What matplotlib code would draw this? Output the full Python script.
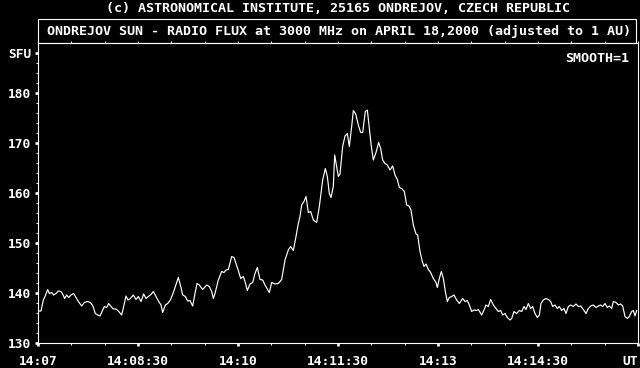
import matplotlib
matplotlib.use("Agg")
import matplotlib.pyplot as plt
from matplotlib.patches import Rectangle

# ---- data (seconds after 14:07:00 UT, flux in SFU) ----
time_s = [
    0, 2.7, 4.8, 6.3, 8.7, 10.2, 12.3, 14.1, 16.2, 18.3,
    20.7, 22.2, 24.0, 25.8, 27.6, 29.7, 32.1, 34.2, 36.3, 39.3,
    41.7, 44.7, 47.1, 49.2, 51.6, 53.7, 55.8, 57.6, 59.7, 61.8,
    63.6, 65.7, 67.8, 70.2, 72.3, 75.3, 77.1, 79.2, 81.0, 83.1,
    85.8, 88.2, 90.3, 92.7, 95.1, 97.2, 99.3, 101.7, 103.8, 106.2,
    108.6, 110.7, 112.2, 114.6, 116.7, 119.1, 121.2, 123.6, 126.3, 128.1,
    130.2, 132.6, 134.7, 136.8, 139.2, 141.3, 143.1, 145.2,
    148.2, 151.8, 154.2, 156.3, 157.8, 159.3, 162.3, 165.3, 167.4, 169.2,
    171.3, 174.3, 176.4, 178.2, 180.3, 182.4, 184.8, 186.3, 188.4, 190.8,
    193.2, 195.3, 197.4, 199.8, 202.2, 204.3, 208.2, 210.3, 213.3, 216.3,
    219.3, 222.3, 225.3, 227.4, 229.8, 232.2, 234.3, 235.8, 237.3, 239.4,
    241.2, 243.3, 245.4, 247.8, 250.8, 253.2, 256.2, 258.6, 260.4, 262.2,
    263.7, 265.8, 267.0, 268.8, 270.3, 271.8,
    274.2, 276.3, 278.4, 280.2, 282.3, 283.8, 285.9, 288.3, 290.4, 292.2,
    294.6, 296.4, 298.2, 300.0, 301.8, 304.2, 306.6, 308.4, 310.2, 312.3,
    314.4, 316.8, 319.2, 321.3, 323.4, 325.2, 327.3, 329.7, 331.8, 333.9,
    335.7, 337.8, 340.2, 341.7, 343.8, 345.9, 347.4, 349.2, 351.3, 353.4,
    355.8, 358.2, 359.4, 361.2, 363.0, 364.8, 366.6, 368.4, 370.2, 372.3,
    374.4, 376.8, 379.2,
    382.2, 384.3, 386.4, 388.2, 390.3, 392.4, 394.8, 396.3, 399.3, 401.4,
    403.2, 405.3, 407.4, 409.8, 412.2, 414.3, 416.4, 418.2, 420.3, 422.4,
    424.8, 426.3, 428.4, 430.8, 433.2, 435.3, 437.4, 439.2, 441.3, 443.4,
    445.2, 447.3, 449.4, 451.2, 452.7, 454.8, 457.2, 459.3, 461.4, 463.2,
    465.3, 467.4, 469.2, 471.3, 473.4, 475.2, 477.3, 479.4, 481.8, 484.2,
    486.3, 488.4, 490.8, 493.2, 495.3, 497.4, 499.8, 502.2, 504.3, 506.4,
    508.2, 510.3, 512.4, 514.2, 516.3, 517.8, 520.2, 522.3, 524.4, 526.2,
    528.3, 530.4, 532.2, 534.3, 535.8, 537.3, 538.8,
]
flux_sfu = [
    136.4, 136.4, 138.6, 139.3, 140.7, 139.9, 140.1, 139.6, 139.9, 140.4,
    140.3, 139.8, 138.9, 139.6, 139.1, 139.6, 139.9, 139.1, 138.3, 137.4,
    138.1, 138.3, 138.1, 137.5, 135.9, 135.6, 135.4, 136.3, 137.3, 137.1,
    137.9, 137.3, 136.8, 136.8, 136.4, 135.6, 137.3, 139.4, 138.6, 138.9,
    139.6, 138.7, 139.3, 138.3, 139.8, 138.9, 139.3, 139.7, 140.3, 139.3,
    138.3, 137.6, 136.1, 137.6, 137.9, 138.6, 139.7, 141.3, 143.1, 141.6,
    139.6, 139.3, 138.4, 138.5, 137.4, 139.9, 141.9, 141.6,
    140.7, 141.6, 141.3, 140.3, 138.9, 139.9, 142.6, 144.3, 144.1, 144.6,
    144.7, 147.3, 147.1, 145.9, 144.5, 142.9, 143.3, 142.3, 140.5, 141.8,
    142.1, 143.9, 145.1, 142.7, 142.6, 141.6, 140.1, 142.1, 141.8, 141.9,
    142.7, 146.6, 148.6, 149.3, 148.5, 151.3, 153.9, 155.3, 157.6, 158.3,
    159.3, 156.1, 156.3, 154.6, 154.1, 157.3, 162.6, 164.9, 163.3, 159.9,
    159.1, 161.3, 167.6, 165.3, 163.3, 163.8,
    169.3, 171.4, 171.9, 169.3, 173.3, 176.5, 175.8, 173.6, 172.1, 172.1,
    176.3, 176.6, 172.9, 169.3, 166.6, 168.1, 170.1, 168.9, 166.6, 165.9,
    165.6, 164.6, 165.4, 163.6, 162.7, 161.1, 160.9, 160.3, 157.6, 157.4,
    156.6, 153.6, 151.8, 151.6, 148.3, 146.3, 145.3, 145.8, 144.7, 144.1,
    142.9, 142.1, 141.1, 142.9, 144.3, 142.9, 140.3, 138.3, 139.1, 139.3,
    139.6, 138.6, 137.9,
    138.9, 138.3, 138.5, 137.6, 136.3, 136.6, 136.5, 136.7, 135.6, 136.6,
    137.6, 137.3, 138.7, 137.6, 136.9, 136.3, 136.5, 135.6, 135.9, 135.1,
    134.6, 134.9, 136.3, 135.9, 136.5, 136.3, 137.3, 136.7, 137.9, 136.9,
    137.3, 135.9, 135.1, 135.6, 137.9, 138.6, 138.9, 138.7, 138.3, 137.3,
    137.6, 136.9, 137.3, 136.5, 136.9, 135.9, 137.3, 137.6, 137.3, 137.8,
    137.3, 137.4, 136.7, 135.9, 136.9, 137.4, 137.6, 137.1, 137.4, 137.6,
    137.3, 137.9, 137.1, 137.4, 136.9, 138.3, 138.1, 137.6, 137.8, 137.4,
    135.3, 134.9, 135.3, 136.3, 136.5, 135.4, 136.5,
]

x_tick_pos = [0, 90, 180, 270, 360, 450, 540]
x_tick_labels = ["14:07", "14:08:30", "14:10", "14:11:30", "14:13", "14:14:30", "UT"]
y_tick_pos = [130, 140, 150, 160, 170, 180, 188]
y_tick_labels = ["130", "140", "150", "160", "170", "180", "SFU"]

credit = "(c) ASTRONOMICAL INSTITUTE, 25165 ONDREJOV, CZECH REPUBLIC"
title = "ONDREJOV SUN - RADIO FLUX at 3000 MHz on APRIL 18,2000 (adjusted to 1 AU)"
smooth = "SMOOTH=1"

FONT = dict(family="DejaVu Sans Mono", weight="bold", color="white")
FS = 9.3
FS_T = 9.6

W, H = 640, 368
fig = plt.figure(figsize=(W / 100, H / 100), dpi=100, facecolor="black")
ax = fig.add_axes([38 / W, (H - 343) / H, 600 / W, 300 / H])
ax.set_facecolor("black")

ax.plot(time_s, flux_sfu, color="white", lw=0.85)

ax.set_xlim(0, 540)
ax.set_ylim(130, 190)

for s in ax.spines.values():
    s.set_color("white")
    s.set_linewidth(0.8)

ax.set_xticks(x_tick_pos)
ax.set_xticklabels(x_tick_labels)
ax.set_xticks(list(range(0, 541, 30)), minor=True)
ax.set_yticks(y_tick_pos)
ax.set_yticklabels(y_tick_labels)
ax.set_yticks(list(range(130, 190, 2)), minor=True)

ax.tick_params(axis="both", which="major", direction="out", color="white",
               length=1.9, width=1.9, labelcolor="white", labelsize=FS)
ax.tick_params(axis="x", which="major", pad=7)
ax.tick_params(axis="y", which="major", pad=3)
ax.tick_params(axis="both", which="minor", direction="out", color="white",
               length=1.6, width=0.75)
for lab in ax.get_xticklabels() + ax.get_yticklabels():
    lab.set_fontfamily("DejaVu Sans Mono")
    lab.set_fontweight("bold")
ax.get_xticklabels()[-1].set_horizontalalignment("right")
ax.get_xticklabels()[-1].set_x(540)

# top ticks every 30 s
axt = ax.twiny()
axt.set_xlim(0, 540)
axt.set_xticks(list(range(0, 541, 30)))
axt.set_xticklabels([])
axt.tick_params(axis="x", direction="out", color="white", length=1.6, width=0.75)
for s in axt.spines.values():
    s.set_visible(False)

# title box
fig.patches.append(Rectangle((38 / W, (H - 43) / H), 598 / W, 24 / H,
                             transform=fig.transFigure, fill=False,
                             edgecolor="white", lw=0.8))
fig.text(339 / W, (H - 31) / H, title, ha="center", va="center", fontsize=FS_T, **FONT)
fig.text(337.5 / W, (H - 8) / H, credit, ha="center", va="center", fontsize=FS_T, **FONT)
fig.text(629 / W, (H - 58) / H, smooth, ha="right", va="center", fontsize=FS_T, **FONT)

fig.savefig("out.png", dpi=100, facecolor="black")
